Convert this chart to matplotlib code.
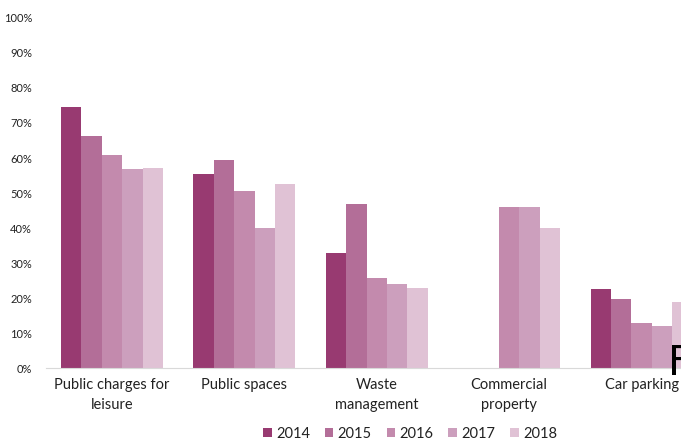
import numpy as np
import matplotlib.pyplot as plt
from matplotlib.ticker import PercentFormatter

plt.rcParams['font.family'] = ['Lato', 'DejaVu Sans']

# Share of respondents per category and year
categories = ['Public charges for\nleisure', 'Public spaces', 'Waste\nmanagement',
              'Commercial\nproperty', 'Car parking']
years = ['2014', '2015', '2016', '2017', '2018']
v2014 = [74.5, 55.4, 32.9, np.nan, 22.6]
v2015 = [66.3, 59.3, 46.9, np.nan, 19.8]
v2016 = [60.8, 50.7, 25.7, 46.0, 13.0]
v2017 = [56.8, 40.1, 23.9, 46.0, 12.0]
v2018 = [57.1, 52.5, 22.9, 40.0, 19.0]
series = [v2014, v2015, v2016, v2017, v2018]
colors = ['#983a71', '#b36e98', '#c38aad', '#cc9fbd', '#e0c2d5']

fig = plt.figure(figsize=(6.81, 4.41), dpi=100)
# axes runs past the right edge, like the cropped original
ax = fig.add_axes([0.0673, 0.1655, 0.972, 0.7937])

x = np.arange(len(categories))
w = 0.154
for i, (vals, c) in enumerate(zip(series, colors)):
    ax.bar(x + (i - 2) * w, vals, width=w, color=c, label=years[i])

ax.set_xlim(-0.5, 4.5)
ax.set_ylim(0, 100)
ax.set_yticks(np.arange(0, 101, 10))
ax.yaxis.set_major_formatter(PercentFormatter(decimals=0))
ax.set_xticks(x)
ax.set_xticklabels(categories, fontsize=10.5, color='#222222', linespacing=1.6)
ax.tick_params(axis='x', length=0, pad=7)
ax.tick_params(axis='y', length=0, pad=10, labelsize=8, labelcolor='#222222')

for s in ['top', 'right', 'left']:
    ax.spines[s].set_visible(False)
ax.spines['bottom'].set_color('#d9d9d9')

fig.legend(loc='center', bbox_to_anchor=(410 / 681, 0.017), ncol=5, frameon=False,
           fontsize=10.5, handlelength=0.6, handleheight=0.6, handletextpad=0.3,
           columnspacing=1.0, labelcolor='#222222')

# stray letter cut off at the right edge in the source
fig.text(668 / 681, 66 / 441, 'F', fontsize=29.5, va='baseline', ha='left',
         family='DejaVu Sans')

fig.savefig('out.png', dpi=100)
